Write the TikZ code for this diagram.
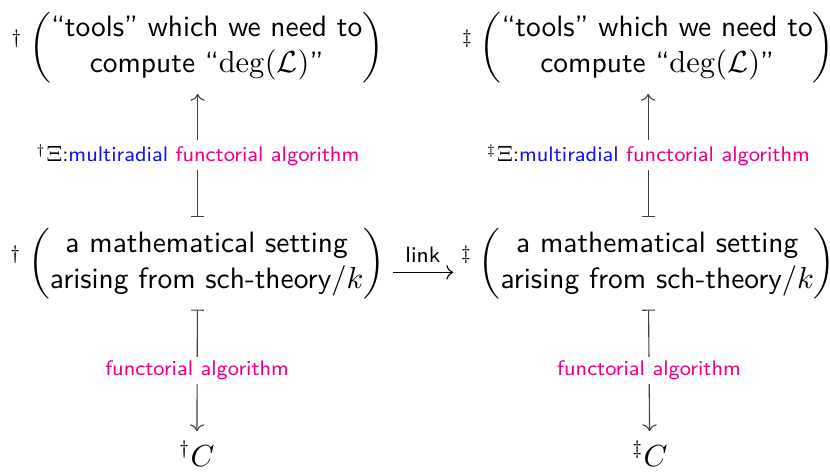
\documentclass[tikz,border=0pt]{standalone}
\usepackage{amsmath,amssymb}
\usepackage{xcolor}
\usepackage{tikz}
\usetikzlibrary{arrows.meta}
\renewcommand{\familydefault}{\sfdefault}
\definecolor{funcpink}{RGB}{235,0,140}
\definecolor{radblue}{RGB}{20,20,240}
\newcommand{\toolsbox}{\left(\begin{tabular}{@{}c@{}}``tools'' which we need to\\ compute ``$\deg(\mathcal{L})$''\end{tabular}\right)}
\newcommand{\settingbox}{\left(\begin{tabular}{@{}c@{}}a mathematical setting\\ arising from sch-theory$/k$\end{tabular}\right)}
\newcommand{\funcalg}{\textcolor{funcpink}{functorial algorithm}}
\newcommand{\markpre}[1]{^{#1}\hspace{0.5pt}}

\begin{document}
\begin{tikzpicture}[
    setting/.style={inner sep=3.5pt, font=\fontsize{10.6}{13}\selectfont},
    algo/.style={fill=white, inner sep=1.5pt, font=\fontsize{7.6}{9.5}\selectfont},
    mapsto/.style={|->, draw=black!75, thin},
    linkarrow/.style={->, thin, shorten <=-1pt, shorten >=-1pt}
]
\useasboundingbox (0,0) rectangle (10.5,-5.98);

% left column
\node[setting] (ltop) at (2.5,-0.6) {$\markpre{\dagger}\toolsbox$};
\node[setting] (lmid) at (2.5,-3.33) {$\markpre{\dagger}\settingbox$};
\node[setting] (lbot) at (2.49,-5.74) {$^{\dagger}C$};

% right column
\node[setting] (rtop) at (8.2,-0.6) {$\markpre{\ddagger}\toolsbox$};
\node[setting] (rmid) at (8.2,-3.33) {$\markpre{\ddagger}\settingbox$};
\node[setting] (rbot) at (8.22,-5.74) {$^{\ddagger}C$};

% algorithms
\draw[mapsto] (lmid) -- (ltop) node[midway, algo] {$^{\dagger}\Xi$:\textcolor{radblue}{multiradial} \funcalg};
\draw[mapsto] (lmid) -- (lbot) node[midway, algo] {\funcalg};
\draw[mapsto] (rmid) -- (rtop) node[midway, algo] {$^{\ddagger}\Xi$:\textcolor{radblue}{multiradial} \funcalg};
\draw[mapsto] (rmid) -- (rbot) node[midway, algo] {\funcalg};

% link
\draw[linkarrow] ([yshift=-3.3pt]lmid.east) -- ([yshift=-3.3pt]rmid.west) node[midway, above, font=\fontsize{8}{10}\selectfont] {link};
\end{tikzpicture}
\end{document}
